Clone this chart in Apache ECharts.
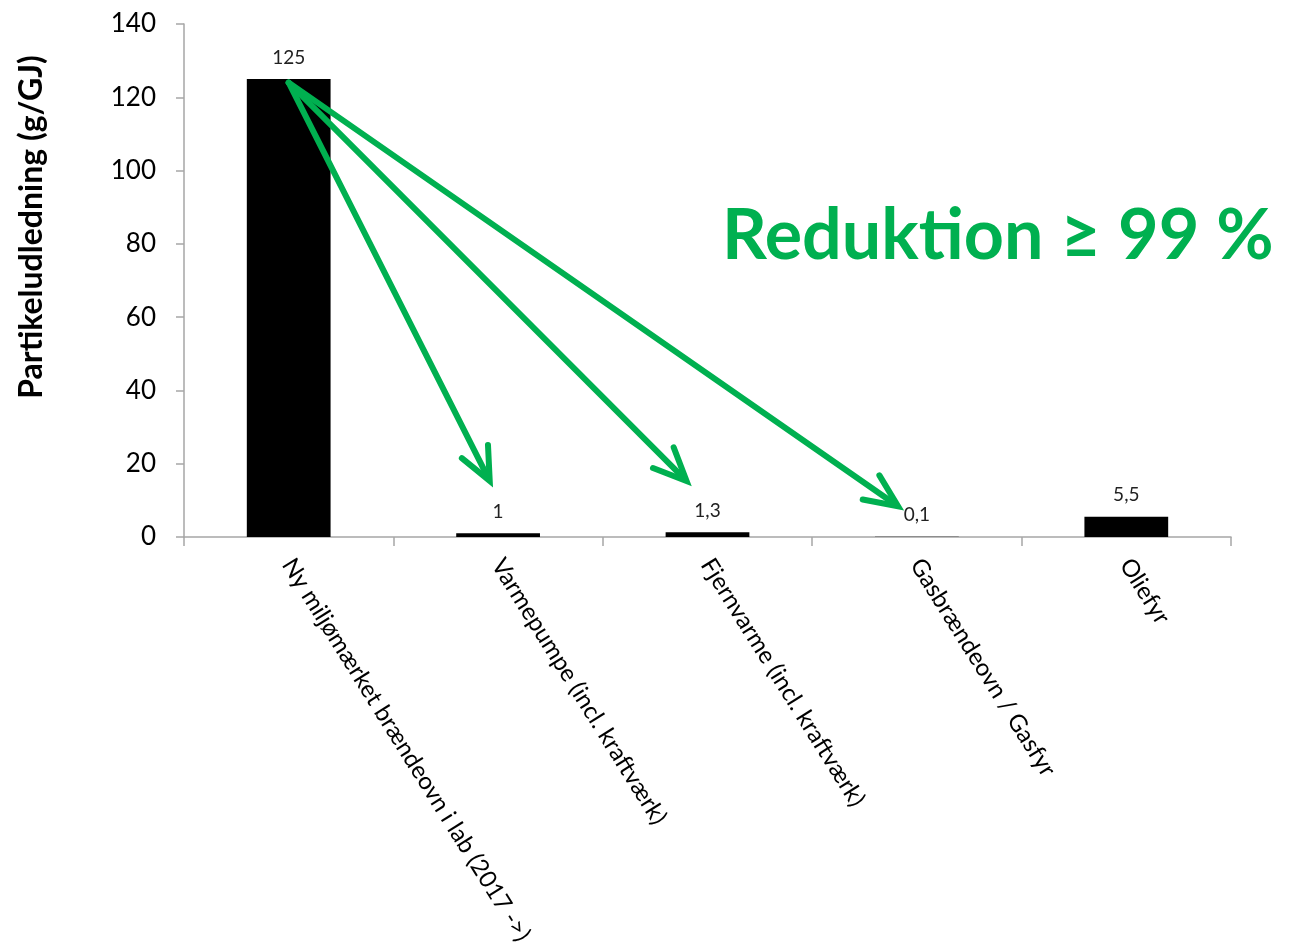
<!DOCTYPE html>
<html>
<head>
<meta charset="utf-8">
<script src="https://cdn.jsdelivr.net/npm/echarts@6/dist/echarts.min.js"></script>
<style>
  html, body { margin: 0; padding: 0; background: #fff; }
  #chart { width: 1289px; height: 952px; }
</style>
</head>
<body>
<div id="chart"></div>
<script>
// ---- data ----
const categories = [
  'Ny miljømærket brændeovn i lab (2017 ->)',
  'Varmepumpe (incl. kraftværk)',
  'Fjernvarme (incl. kraftværk)',
  'Gasbrændeovn / Gasfyr',
  'Oliefyr'
];
const values = [125, 1, 1.3, 0.1, 5.5];
const yMin = 0, yMax = 140, yStep = 20;
const yAxisTitle = 'Partikeludledning (g/GJ)';
const headline = 'Reduktion \u2265 99 %';
// arrow annotations (category index, value)
const arrowStart = [0, 124];
const arrowEndX = [0.96, 1.9, 2.91];
const arrowEndY = [15.3, 15.3, 8.4];

const GREEN = '#00B050';
const FONT = 'Lato';

const chart = echarts.init(document.getElementById('chart'), null, { renderer: 'canvas' });

const option = {
  animation: false,
  backgroundColor: '#ffffff',
  grid: { left: 184, right: 58, top: 24, bottom: 415, containLabel: false, outerBoundsMode: 'none' },
  xAxis: {
    type: 'category',
    data: categories,
    boundaryGap: true,
    axisLine: { lineStyle: { color: '#A6A6A6', width: 1.5 } },
    axisTick: { show: true, length: 9, lineStyle: { color: '#A6A6A6', width: 1.5 } },
    axisLabel: {
      interval: 0,
      rotate: -58,
      align: 'left',
      verticalAlign: 'top',
      margin: 23,
      lineHeight: 2,
      fontFamily: FONT,
      fontSize: 24,
      color: '#000'
    },
    splitLine: { show: false }
  },
  yAxis: {
    type: 'value',
    min: yMin,
    max: yMax,
    interval: yStep,
    axisLine: { show: true, lineStyle: { color: '#A6A6A6', width: 1.5 } },
    axisTick: { show: true, length: 8, lineStyle: { color: '#A6A6A6', width: 1.5 } },
    axisLabel: { margin: 28, fontFamily: FONT, fontSize: 26, color: '#000' },
    splitLine: { show: false }
  },
  series: [{
    type: 'bar',
    data: values,
    barWidth: '40%',
    itemStyle: { color: '#000' },
    label: {
      show: true,
      position: 'top',
      distance: 12,
      fontFamily: FONT,
      fontSize: 19,
      color: '#222',
      formatter: p => String(p.value).replace('.', ',')
    }
  }]
};
chart.setOption(option);

function toPx(xv, yv) {
  const n = categories.length;
  const i0 = Math.max(0, Math.min(n - 1, Math.floor(xv)));
  const i1 = Math.min(n - 1, i0 + 1);
  const p0 = chart.convertToPixel({ gridIndex: 0 }, [i0, yv]);
  const p1 = chart.convertToPixel({ gridIndex: 0 }, [i1, yv]);
  const f = xv - i0;
  return [p0[0] + (p1[0] - p0[0]) * f, p0[1]];
}

const graphics = [
  {
    type: 'text',
    id: 'yname',
    x: 32, y: 227,
    rotation: Math.PI / 2,
    style: {
      text: yAxisTitle,
      font: 'bold 32px ' + FONT,
      fill: '#000',
      textAlign: 'center',
      textVerticalAlign: 'middle'
    }
  },
  {
    type: 'text',
    id: 'headline',
    x: 722, y: 236,
    style: {
      text: headline,
      font: 'bold 70px ' + FONT,
      fill: GREEN,
      textAlign: 'left',
      textVerticalAlign: 'middle'
    }
  }
];

const s = toPx(arrowStart[0], arrowStart[1]);
const headLen = 36, headAng = 24 * Math.PI / 180;
for (let k = 0; k < arrowEndX.length; k++) {
  const e = toPx(arrowEndX[k], arrowEndY[k]);
  const ang = Math.atan2(e[1] - s[1], e[0] - s[0]);
  const back = ang + Math.PI;
  const a1 = [e[0] + headLen * Math.cos(back - headAng), e[1] + headLen * Math.sin(back - headAng)];
  const a2 = [e[0] + headLen * Math.cos(back + headAng), e[1] + headLen * Math.sin(back + headAng)];
  const shaftEnd = [e[0] - 4 * Math.cos(ang), e[1] - 4 * Math.sin(ang)];
  graphics.push({
    type: 'polyline', id: 'shaft' + k, z: 100,
    shape: { points: [s, shaftEnd] },
    style: { stroke: GREEN, lineWidth: 6, lineCap: 'round', fill: null }
  });
  graphics.push({
    type: 'polyline', id: 'head' + k, z: 100,
    shape: { points: [a1, e, a2] },
    style: { stroke: GREEN, lineWidth: 6, lineCap: 'round', lineJoin: 'miter', miterLimit: 10, fill: null }
  });
}
chart.setOption({ graphic: graphics });
</script>
</body>
</html>
